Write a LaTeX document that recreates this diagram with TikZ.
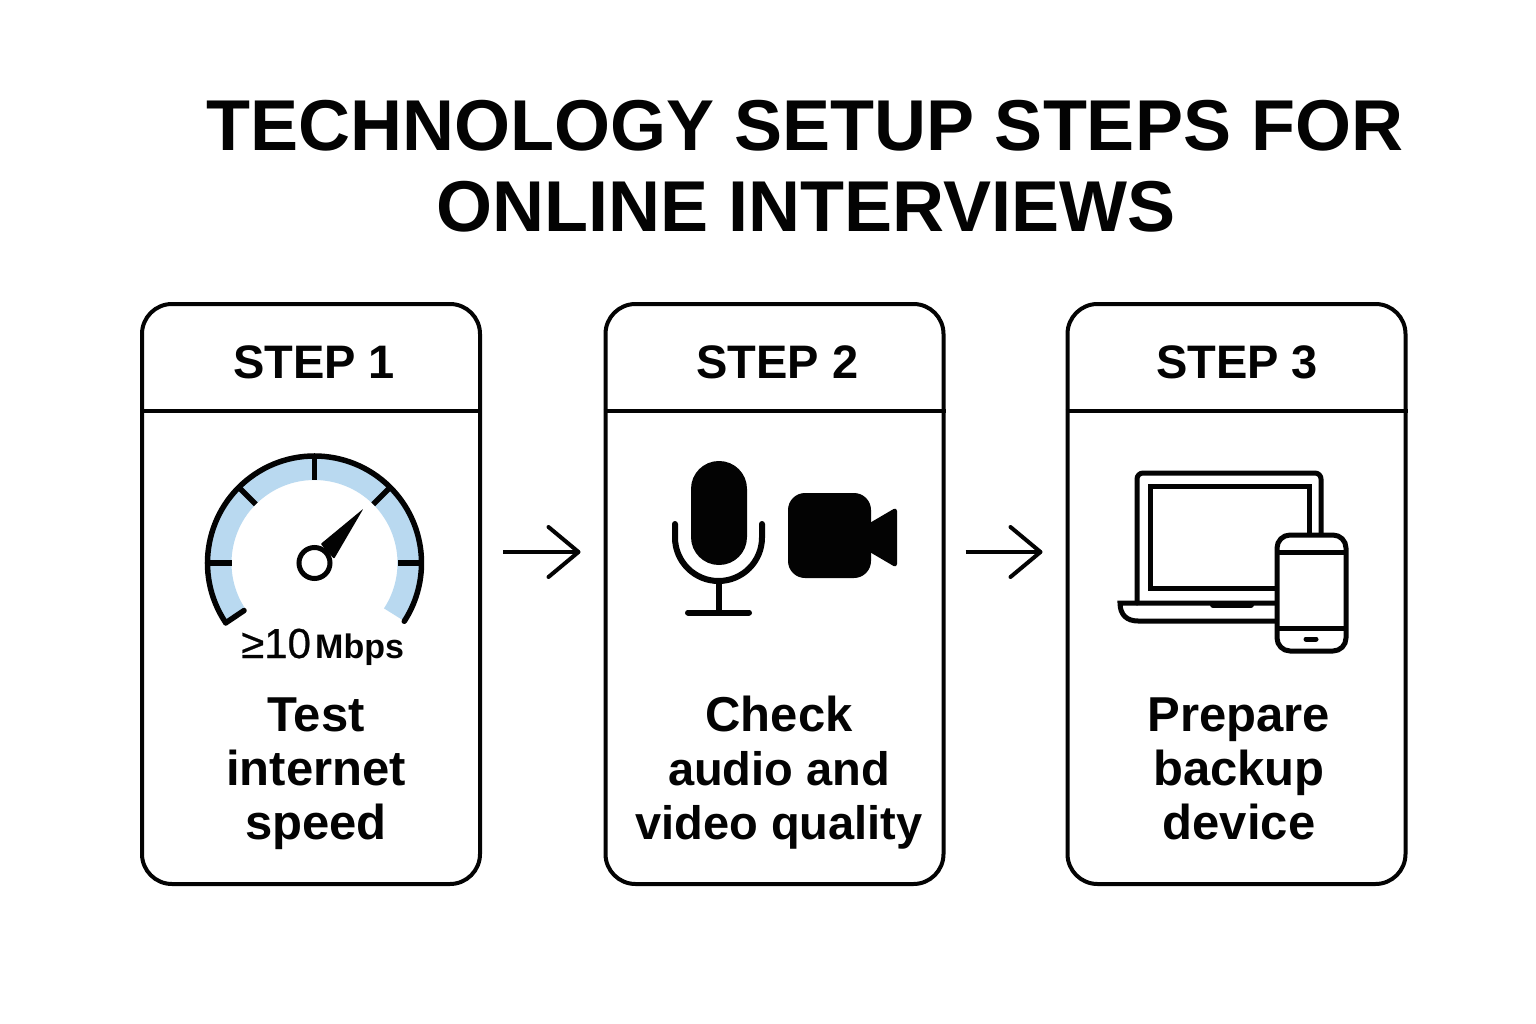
\documentclass[tikz,border=0pt]{standalone}
\usepackage{fontspec}
\setmainfont{Liberation Sans}
\newfontfamily\speedfont[FakeBold=0.5]{Liberation Sans}
\usetikzlibrary{arrows.meta}
\definecolor{bandblue}{HTML}{B9D9F0}
\definecolor{ink}{HTML}{030303}
\tikzset{
  card/.style={draw=ink,line width=4pt,rounded corners=30pt,minimum width=338pt,minimum height=580pt,inner sep=0pt},
  divider/.style={draw=ink,line width=4pt},
  titletext/.style={font=\fontsize{72}{81}\selectfont\bfseries,text=ink,anchor=base,inner sep=0pt},
  steptext/.style={font=\fontsize{47}{54}\selectfont\bfseries,text=ink,anchor=base,inner sep=0pt},
  bodytext/.style={font=\fontsize{49}{54}\selectfont\bfseries,text=ink,align=center,inner sep=0pt},
  flow/.style={draw=ink,line width=4pt,-{Straight Barb[length=30pt,width=50pt,line width=4pt,round]}},
  iconline/.style={draw=ink,line width=5pt,line cap=round,line join=round},
  micline/.style={draw=ink,line width=6pt,line cap=round},
  tick/.style={draw=ink,line width=5.5pt,line cap=round},
}
\newcommand{\smallbody}[1]{{\fontsize{47}{54}\selectfont #1}}
\begin{document}
\begin{tikzpicture}[x=1pt,y=-1pt]
\useasboundingbox[fill=white] (0,0) rectangle (1536,1024);
% title
\node[titletext] (title1) at (805,151) {TECHNOLOGY SETUP STEPS FOR};
\node[titletext] (title2) at (806,232) {ONLINE INTERVIEWS};
% cards
\node[card] (card1) at (311,594) {};
\node[card] (card2) at (774.5,594) {};
\node[card] (card3) at (1236.5,594) {};
\foreach \c in {card1,card2,card3}{
  \draw[divider] (\c.west |- 0,411) -- (\c.east |- 0,411);
}
\node[steptext] (s1) at (314,378) {STEP 1};
\node[steptext] (s2) at (777.5,378) {STEP 2};
\node[steptext] (s3) at (1237,378) {STEP 3};
\node[bodytext] (b1) at (316,773.5) {Test\\internet\\speed};
\node[bodytext] (b2) at (779,772.5) {Check\\\smallbody{audio and}\\\smallbody{video quality}};
\node[bodytext] (b3) at (1239,769) {Prepare\\backup\\device};
% arrows
\draw[flow,shorten <=21pt,shorten >=23pt] ([yshift=42pt]card1.east) -- ([yshift=42pt]card2.west);
\draw[flow,shorten <=20pt,shorten >=23pt] ([yshift=42pt]card2.east) -- ([yshift=42pt]card3.west);
% gauge
\begin{scope}[shift={(314.5,563)},x=1pt,y=1pt]
  \draw[bandblue,line width=24pt] (214:95) arc[start angle=214,end angle=-33,radius=95];
  \draw[ink,line width=5.5pt,line cap=round] (214:107) arc[start angle=214,end angle=-33,radius=107];
  \draw[tick] (214:107) -- (214:85);
  \foreach \a in {180,135,90,45,0}{ \draw[tick,line cap=butt] (\a:107) -- (\a:83); }
  \fill[ink,rounded corners=1pt] (48:73) -- (12:20) -- (72:20) -- cycle;
  \draw[ink,line width=5pt,fill=white] (0,0) circle[radius=15.5];
\end{scope}
\node[anchor=base west,inner sep=0pt,font=\fontsize{42}{42}\speedfont,text=ink] (speed) at (241,658) {≥10};
\node[anchor=base west,inner sep=0pt,font=\fontsize{34}{34}\selectfont\bfseries,text=ink] (mbps) at (315,658) {Mbps};
% microphone
\fill[ink,rounded corners=27.9pt] (691,461) rectangle (747,565);
\draw[micline] (675,524) -- (675,537.5) arc[start angle=180,end angle=360,x radius=43.5,y radius=-43.5] -- (762,524);
\draw[micline,line cap=butt] (718.5,581) -- (718.5,612);
\draw[micline] (688,612.5) -- (749,612.5);
% camera
\fill[ink,rounded corners=17pt] (788,493) rectangle (871,578);
\fill[ink,rounded corners=4pt] (868,524) -- (897,507) -- (897,568) -- (868,551) -- cycle;
% laptop
\draw[iconline,rounded corners=6pt] (1137,603) -- (1137,473) -- (1321,473) -- (1321,540);
\draw[iconline,line cap=butt,line join=miter] (1309,540) -- (1309,486) -- (1150,486) -- (1150,588) -- (1280,588);
\draw[iconline,line cap=butt,line join=miter] (1280,603) -- (1120,603) .. controls (1120,615) and (1127,621) .. (1138,621) -- (1280,621);
\draw[ink,line width=6pt,line cap=round] (1213,605) -- (1251,605);
% phone
\draw[iconline,fill=white,rounded corners=13pt] (1277,535) rectangle (1346,651);
\draw[iconline,line cap=butt] (1277,552) -- (1346,552);
\draw[iconline,line cap=butt] (1277,628) -- (1346,628);
\draw[iconline] (1306,639) -- (1316,639);
\end{tikzpicture}
\end{document}
